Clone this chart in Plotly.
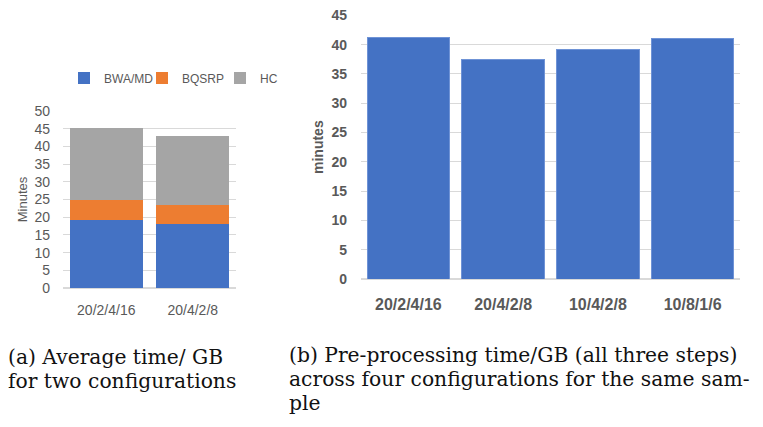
import plotly.graph_objects as go

# Left chart (a): stacked time per GB
cats_a = ["20/2/4/16", "20/4/2/8"]
bwa_md = [19.2, 18.2]
bqsrp = [5.7, 5.3]
hc = [20.2, 19.4]

# Right chart (b): total pre-processing time per GB
cats_b = ["20/2/4/16", "20/4/2/8", "10/4/2/8", "10/8/1/6"]
total_b = [41.3, 37.5, 39.2, 41.1]

BLUE = "#4472C4"
ORANGE = "#ED7D31"
GRAY = "#A5A5A5"
TXT = "#595959"
GRID = "#D9D9D9"

# page is 763x427; the html body has an 8px margin, so the figure is drawn inside it
OFF = 8
W, H = 763 - 2 * OFF, 427 - 2 * OFF

def fx(px):
    return (px - OFF) / W

def fy(py):
    return (H - (py - OFF)) / H

fig = go.Figure()
for name, vals, col in [("BWA/MD", bwa_md, BLUE), ("BQSRP", bqsrp, ORANGE), ("HC", hc, GRAY)]:
    fig.add_trace(go.Bar(x=cats_a, y=vals, name=name, marker_color=col,
                         marker_line_width=0, width=0.84, xaxis="x", yaxis="y"))

fig.add_trace(go.Bar(x=cats_b, y=total_b, name="total", marker_color=BLUE,
                     marker_line=dict(color="#6f93d6", width=1), width=0.87,
                     xaxis="x2", yaxis="y2", showlegend=False))

fig.update_layout(
    width=W, height=H,
    margin=dict(l=0, r=0, t=0, b=0, autoexpand=False),
    paper_bgcolor="white", plot_bgcolor="white",
    barmode="stack",
    showlegend=True,
    legend=dict(orientation="h", x=fx(64), xanchor="left", y=fy(78), yanchor="middle",
                font=dict(family="Liberation Sans", size=12, color=TXT),
                itemwidth=30, entrywidth=33, traceorder="normal", bgcolor="rgba(0,0,0,0)"),
    xaxis=dict(domain=[fx(63), fx(236)], anchor="y", showgrid=False, showline=False, automargin=False,
               ticks="", ticklabelstandoff=12,
               tickfont=dict(family="Liberation Sans", size=14, color=TXT)),
    yaxis=dict(domain=[fy(288), fy(111)], anchor="x", range=[0, 50.02], dtick=5, automargin=False,
               showgrid=True, gridcolor=GRID, gridwidth=1, zeroline=True, zerolinecolor=GRID,
               showline=False, ticks="", ticklabelstandoff=12,
               tickfont=dict(family="Liberation Sans", size=14, color=TXT),
               title=dict(text="Minutes", font=dict(family="Liberation Sans", size=13, color=TXT), standoff=3)),
    xaxis2=dict(domain=[fx(361), fx(740)], anchor="y2", showgrid=False, showline=False, automargin=False,
                ticks="", ticklabelstandoff=14,
                tickfont=dict(family="Liberation Sans", size=16, color=TXT, weight="bold")),
    yaxis2=dict(domain=[fy(279), fy(15.3)], anchor="x2", range=[0, 45.02], dtick=5, automargin=False,
                showgrid=True, gridcolor=GRID, gridwidth=1, zeroline=True, zerolinecolor=GRID,
                showline=False, ticks="", ticklabelstandoff=13, ticklabeloverflow="allow",
                tickfont=dict(family="Liberation Sans", size=14, color=TXT, weight="bold"),
                title=dict(text="minutes", font=dict(family="Liberation Sans", size=14, color=TXT, weight="bold"), standoff=4)),
)

cap_font = dict(family="DejaVu Serif", size=20.3, color="#111111")
cap_lines = [
    (6, 357, "(a) Average time/ GB"),
    (6, 381, "for two configurations"),
    (287, 355, "(b) Pre-processing time/GB (all three steps)"),
    (287, 379, "across four configurations for the same sam-"),
    (287, 403, "ple"),
]
for x, y, t in cap_lines:
    fig.add_annotation(xref="paper", yref="paper", x=fx(x), y=fy(y), xanchor="left", yanchor="middle",
                       text=t, showarrow=False, align="left", font=cap_font)

fig.write_html("out.html")
